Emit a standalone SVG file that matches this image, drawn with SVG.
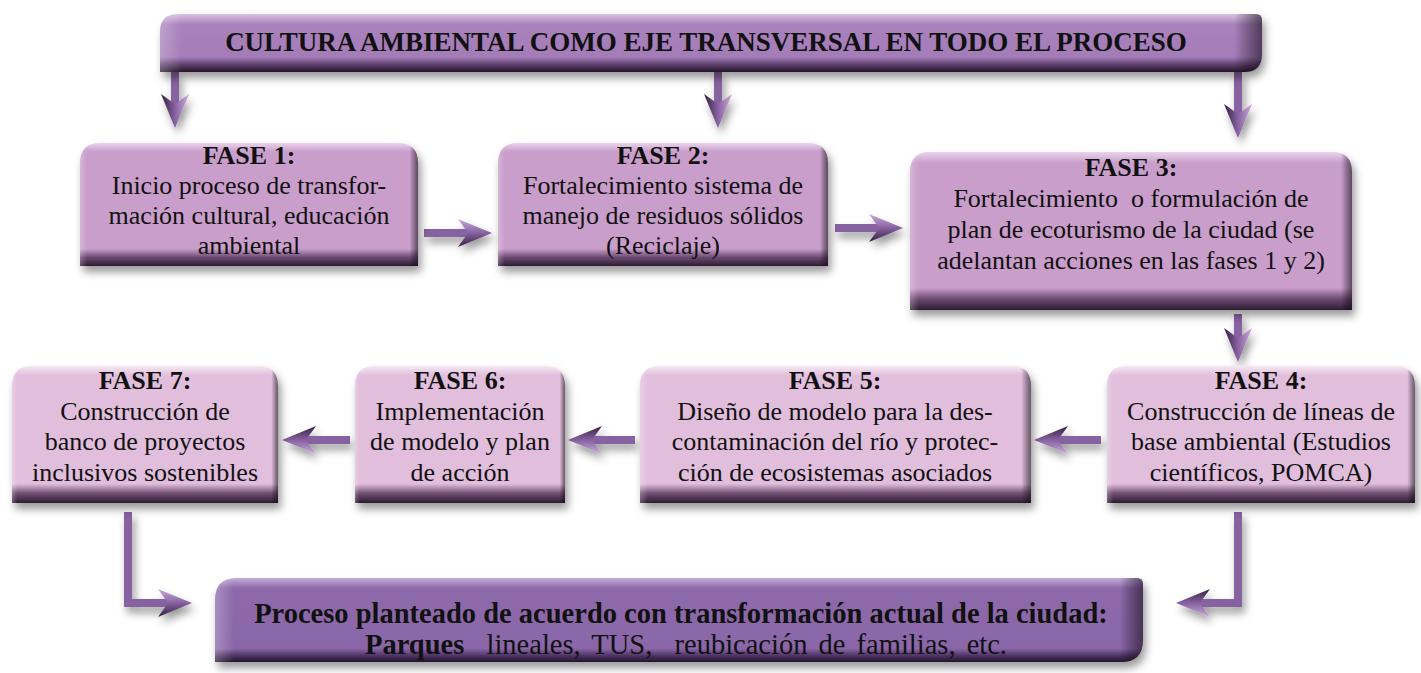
<svg xmlns="http://www.w3.org/2000/svg" width="1421" height="673" viewBox="0 0 1421 673">
<defs>
<style>
text{font-family:"Liberation Serif","Times New Roman",serif;fill:#111;text-anchor:middle;font-size:26px}
.b{font-weight:bold}
.hd{font-weight:bold;font-size:27px}
.bt{font-size:28.5px}
.shaft{fill:none;stroke:#8762a0;stroke-width:8;stroke-linejoin:miter}
.edge{fill:url(#side)}
</style>
<linearGradient id="g1" x1="0" y1="0" x2="0" y2="1">
<stop offset="0" stop-color="#ead3ec"/><stop offset="0.07" stop-color="#c99ecb"/><stop offset="0.86" stop-color="#c99ecb"/><stop offset="0.93" stop-color="#6c4a72"/><stop offset="1" stop-color="#2e1c33"/>
</linearGradient>
<linearGradient id="g2" x1="0" y1="0" x2="0" y2="1">
<stop offset="0" stop-color="#f5e8f3"/><stop offset="0.07" stop-color="#e1bedc"/><stop offset="0.86" stop-color="#e1bedc"/><stop offset="0.93" stop-color="#6e4e72"/><stop offset="1" stop-color="#2e1c33"/>
</linearGradient>
<linearGradient id="gt" x1="0" y1="0" x2="0" y2="1">
<stop offset="0" stop-color="#d9c2e3"/><stop offset="0.18" stop-color="#a982bc"/><stop offset="0.74" stop-color="#a47cb8"/><stop offset="0.88" stop-color="#5a3d68"/><stop offset="1" stop-color="#24162a"/>
</linearGradient>
<linearGradient id="gb" x1="0" y1="0" x2="0" y2="1">
<stop offset="0" stop-color="#c5acd8"/><stop offset="0.12" stop-color="#8e6aab"/><stop offset="0.84" stop-color="#8a66a8"/><stop offset="0.93" stop-color="#4a3160"/><stop offset="1" stop-color="#22152c"/>
</linearGradient>
<linearGradient id="side" x1="0" y1="0" x2="1" y2="0">
<stop offset="0" stop-color="#ffffff" stop-opacity="0.25"/><stop offset="0.02" stop-color="#ffffff" stop-opacity="0"/><stop offset="0.975" stop-color="#000" stop-opacity="0"/><stop offset="1" stop-color="#1a0e1f" stop-opacity="0.6"/>
</linearGradient>
<linearGradient id="ah" x1="0" y1="0" x2="0" y2="1">
<stop offset="0" stop-color="#c9abda"/><stop offset="0.5" stop-color="#8761a0"/><stop offset="1" stop-color="#35203f"/>
</linearGradient>
<filter id="sh" x="-10%" y="-20%" width="125%" height="150%">
<feDropShadow dx="3" dy="6" stdDeviation="4" flood-color="#000" flood-opacity="0.4"/>
</filter>
<marker id="arr" markerUnits="userSpaceOnUse" markerWidth="34" markerHeight="30" viewBox="0 0 34 30" refX="10" refY="15" orient="auto">
<path d="M0,1 L34,15 L0,29 L10,15 Z" fill="url(#ah)"/>
</marker>
</defs>

<g id="connectors" filter="url(#sh)">
<path class="shaft" d="M175,72 V104" marker-end="url(#arr)"/>
<path class="shaft" d="M718,72 V104" marker-end="url(#arr)"/>
<path class="shaft" d="M1238,72 V114" marker-end="url(#arr)"/>
<path class="shaft" d="M424,233 H468" marker-end="url(#arr)"/>
<path class="shaft" d="M835,228 H879" marker-end="url(#arr)"/>
<path class="shaft" d="M1238,314 V338" marker-end="url(#arr)"/>
<path class="shaft" d="M1101,440 H1058" marker-end="url(#arr)"/>
<path class="shaft" d="M635,440 H592" marker-end="url(#arr)"/>
<path class="shaft" d="M350,440 H306" marker-end="url(#arr)"/>
<path class="shaft" d="M128,512 V603 H168" marker-end="url(#arr)"/>
<path class="shaft" d="M1238,512 V603 H1200" marker-end="url(#arr)"/>
</g>

<g id="banner-top">
<path d="M178,14 H1256 Q1262,14 1262,20 V54 Q1262,72 1244,72 H160 V32 Q160,14 178,14 Z" fill="url(#gt)" filter="url(#sh)"/>
<path class="edge" d="M178,14 H1256 Q1262,14 1262,20 V54 Q1262,72 1244,72 H160 V32 Q160,14 178,14 Z"/>
<text class="hd" x="706" y="51">CULTURA AMBIENTAL COMO EJE TRANSVERSAL EN TODO EL PROCESO</text>
</g>

<g id="fase1">
<path d="M100,143 H398 Q418,143 418,163 V266 H80 V163 Q80,143 100,143 Z" fill="url(#g1)" filter="url(#sh)"/>
<path class="edge" d="M100,143 H398 Q418,143 418,163 V266 H80 V163 Q80,143 100,143 Z"/>
<text x="249" y="164" class="b">FASE 1:</text>
<text x="249" y="194">Inicio proceso de transfor-</text>
<text x="249" y="224">mación cultural, educación</text>
<text x="249" y="254">ambiental</text>
</g>

<g id="fase2">
<path d="M518,143 H808 Q828,143 828,163 V266 H498 V163 Q498,143 518,143 Z" fill="url(#g1)" filter="url(#sh)"/>
<path class="edge" d="M518,143 H808 Q828,143 828,163 V266 H498 V163 Q498,143 518,143 Z"/>
<text x="663" y="164" class="b">FASE 2:</text>
<text x="663" y="194">Fortalecimiento sistema de</text>
<text x="663" y="224">manejo de residuos sólidos</text>
<text x="663" y="254">(Reciclaje)</text>
</g>

<g id="fase3">
<path d="M930,152 H1332 Q1352,152 1352,172 V310 H910 V172 Q910,152 930,152 Z" fill="url(#g1)" filter="url(#sh)"/>
<path class="edge" d="M930,152 H1332 Q1352,152 1352,172 V310 H910 V172 Q910,152 930,152 Z"/>
<text x="1131" y="176" class="b">FASE 3:</text>
<text x="1131" y="207" xml:space="preserve">Fortalecimiento  o formulación de</text>
<text x="1131" y="238">plan de ecoturismo de la ciudad (se</text>
<text x="1131" y="269">adelantan acciones en las fases 1 y 2)</text>
</g>

<g id="fase4">
<path d="M1127,366 H1395 Q1415,366 1415,386 V503 H1107 V386 Q1107,366 1127,366 Z" fill="url(#g2)" filter="url(#sh)"/>
<path class="edge" d="M1127,366 H1395 Q1415,366 1415,386 V503 H1107 V386 Q1107,366 1127,366 Z"/>
<text x="1261" y="389" class="b">FASE 4:</text>
<text x="1261" y="420">Construcción de líneas de</text>
<text x="1261" y="450">base ambiental (Estudios</text>
<text x="1261" y="481">científicos, POMCA)</text>
</g>

<g id="fase5">
<path d="M660,366 H1011 Q1031,366 1031,386 V503 H640 V386 Q640,366 660,366 Z" fill="url(#g2)" filter="url(#sh)"/>
<path class="edge" d="M660,366 H1011 Q1031,366 1031,386 V503 H640 V386 Q640,366 660,366 Z"/>
<text x="835" y="389" class="b">FASE 5:</text>
<text x="835" y="420">Diseño de modelo para la des-</text>
<text x="835" y="450">contaminación del río y protec-</text>
<text x="835" y="481">ción de ecosistemas asociados</text>
</g>

<g id="fase6">
<path d="M375,366 H545 Q565,366 565,386 V503 H355 V386 Q355,366 375,366 Z" fill="url(#g2)" filter="url(#sh)"/>
<path class="edge" d="M375,366 H545 Q565,366 565,386 V503 H355 V386 Q355,366 375,366 Z"/>
<text x="460" y="389" class="b">FASE 6:</text>
<text x="460" y="420">Implementación</text>
<text x="460" y="450">de modelo y plan</text>
<text x="460" y="481">de acción</text>
</g>

<g id="fase7">
<path d="M32,366 H258 Q278,366 278,386 V503 H12 V386 Q12,366 32,366 Z" fill="url(#g2)" filter="url(#sh)"/>
<path class="edge" d="M32,366 H258 Q278,366 278,386 V503 H12 V386 Q12,366 32,366 Z"/>
<text x="145" y="389" class="b">FASE 7:</text>
<text x="145" y="420">Construcción de</text>
<text x="145" y="450">banco de proyectos</text>
<text x="145" y="481">inclusivos sostenibles</text>
</g>

<g id="banner-bottom">
<path d="M237,578 H1137 Q1143,578 1143,584 V640 Q1143,662 1121,662 H215 V600 Q215,578 237,578 Z" fill="url(#gb)" filter="url(#sh)"/>
<path class="edge" d="M237,578 H1137 Q1143,578 1143,584 V640 Q1143,662 1121,662 H215 V600 Q215,578 237,578 Z"/>
<text x="681" y="623" class="b bt">Proceso planteado de acuerdo con transformación actual de la ciudad:</text>
<text x="686" y="654" class="bt" xml:space="preserve" word-spacing="4"><tspan class="b">Parques</tspan>  lineales, TUS,  reubicación de familias, etc.</text>
</g>
</svg>
